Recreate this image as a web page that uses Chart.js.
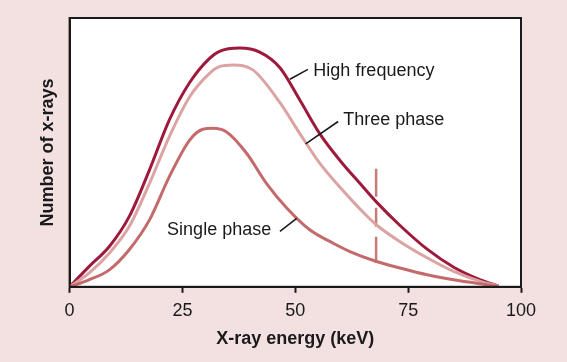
<!DOCTYPE html>
<html>
<head>
<meta charset="utf-8">
<script src="https://cdn.jsdelivr.net/npm/chart.js@4.4.1/dist/chart.umd.min.js"></script>
<style>
  html, body { margin: 0; padding: 0; background: #f3e0e1; }
  #wrap { width: 567px; height: 362px; }
</style>
</head>
<body>
<div id="wrap"><canvas id="myChart" width="567" height="362"></canvas></div>
<script>
// energies (keV) and relative counts
const highFreqKeV = [0, 4.3, 8.8, 13.2, 17.7, 22.1, 26.6, 31.0, 33.2, 37.7, 42.1, 46.6, 51.0, 55.4, 59.9, 64.3, 68.0, 73.2, 79.2, 85.1, 91.0, 95.0];
const highFreqVal = [0, 7.5, 15.0, 26.1, 43.5, 62.1, 76.0, 85.0, 87.6, 88.8, 87.3, 81.5, 69.5, 57.0, 47.0, 38.5, 31.5, 22.8, 14.0, 7.3, 2.6, 0.3];

const threePhaseKeV = [0, 4.3, 8.8, 13.2, 17.7, 22.1, 26.6, 31.0, 33.2, 36.2, 40.6, 46.6, 51.0, 55.4, 59.9, 64.3, 68.0, 73.2, 79.2, 85.1, 91.0, 95.0];
const threePhaseVal = [0, 5.1, 12.5, 22.4, 38.5, 55.9, 70.7, 79.4, 81.9, 82.5, 80.7, 68.5, 57.0, 46.0, 37.0, 29.0, 23.0, 16.8, 10.8, 5.7, 2.0, 0.3];

const singlePhaseKeV = [0, 4.3, 8.8, 13.2, 17.7, 22.1, 26.6, 29.5, 31.7, 34.7, 39.2, 43.6, 48.0, 53.2, 58.4, 62.1, 68.0, 73.2, 79.2, 85.1, 91.0, 95.0];
const singlePhaseVal = [0, 2.6, 6.3, 13.8, 24.9, 41.0, 54.6, 58.6, 59.0, 57.7, 49.7, 38.5, 29.5, 21.2, 16.2, 13.1, 9.4, 7.0, 4.5, 2.6, 1.1, 0.2];

// marker at 68 keV, broken just below where it crosses the upper curves
const markerKeV = [67.9, 67.9, 67.9, 67.9, 67.9, 67.9, 67.9, 67.9];
const markerVal = [43.9, 33.5, null, 29.4, 22.3, null, 18.6, 8.9];

const xTicks = [0, 25, 50, 75, 100];

// curve labels: [text, textX, textY, leaderFromX, leaderFromY, leaderToX, leaderToY]
const curveLabels = [
    ['High frequency', 54.0, 80.4, 48.8, 77.2, 52.8, 80.9],
    ['Three phase', 60.6, 62.1, 52.3, 53.2, 59.5, 61.5],
    ['Single phase', 21.6, 21.2, 46.6, 20.6, 50.3, 25.5]
];

const colors = {
    high: '#9e1a3c',
    three: '#dca3a3',
    single: '#c46a6b',
    marker: '#c97a7a'
};

const fontFamily = '"Liberation Sans", Arial, sans-serif';

function toPoints(xs, ys) {
    return xs.map((x, i) => ({ x: x, y: ys[i] }));
}

const frame = {
    id: 'frame',
    beforeDraw(chart) {
        const { ctx, chartArea: a } = chart;
        ctx.save();
        ctx.fillStyle = '#ffffff';
        ctx.fillRect(a.left, a.top, a.right - a.left, a.bottom - a.top);
        ctx.restore();
    },
    afterDraw(chart) {
        const { ctx, chartArea: a, scales } = chart;
        ctx.save();
        ctx.strokeStyle = '#1a1a1a';
        ctx.lineWidth = 2;
        ctx.strokeRect(a.left, a.top, a.right - a.left, a.bottom - a.top);

        ctx.font = '18px ' + fontFamily;
        ctx.fillStyle = '#1a1a1a';
        ctx.textBaseline = 'middle';
        ctx.textAlign = 'left';
        ctx.lineWidth = 1.6;
        curveLabels.forEach(l => {
            ctx.fillText(l[0], scales.x.getPixelForValue(l[1]), scales.y.getPixelForValue(l[2]));
            ctx.beginPath();
            ctx.moveTo(scales.x.getPixelForValue(l[3]), scales.y.getPixelForValue(l[4]));
            ctx.lineTo(scales.x.getPixelForValue(l[5]), scales.y.getPixelForValue(l[6]));
            ctx.stroke();
        });
        ctx.restore();
    }
};

const lineStyle = {
    fill: false,
    cubicInterpolationMode: 'monotone',
    pointRadius: 0,
    borderWidth: 3
};

const ctx = document.getElementById('myChart').getContext('2d');

const myChart = new Chart(ctx, {
    type: 'line',
    data: {
        datasets: [{
            label: 'Single phase',
            data: toPoints(singlePhaseKeV, singlePhaseVal),
            borderColor: colors.single,
            ...lineStyle
        }, {
            label: 'Three phase',
            data: toPoints(threePhaseKeV, threePhaseVal),
            borderColor: colors.three,
            ...lineStyle
        }, {
            label: 'High frequency',
            data: toPoints(highFreqKeV, highFreqVal),
            borderColor: colors.high,
            ...lineStyle
        }, {
            label: 'marker',
            data: toPoints(markerKeV, markerVal),
            borderColor: colors.marker,
            borderWidth: 2.5,
            pointRadius: 0,
            tension: 0,
            spanGaps: false
        }]
    },
    options: {
        responsive: false,
        animation: false,
        layout: {
            padding: { left: 37, right: 46, top: 18, bottom: 12 }
        },
        plugins: {
            legend: { display: false },
            tooltip: { enabled: false }
        },
        scales: {
            x: {
                type: 'linear',
                min: 0,
                max: 100,
                afterBuildTicks: axis => { axis.ticks = xTicks.map(v => ({ value: v })); },
                grid: {
                    display: true,
                    drawOnChartArea: false,
                    drawTicks: true,
                    tickLength: 6,
                    tickWidth: 2,
                    tickColor: '#1a1a1a'
                },
                border: { display: true, color: '#1a1a1a', width: 2 },
                ticks: {
                    color: '#1a1a1a',
                    padding: 7,
                    maxRotation: 0,
                    font: { family: fontFamily, size: 18 }
                },
                title: {
                    display: true,
                    text: 'X-ray energy (keV)',
                    color: '#1a1a1a',
                    padding: { top: 0, bottom: 0 },
                    font: { family: fontFamily, size: 18, weight: 'bold' }
                }
            },
            y: {
                min: 0,
                max: 100,
                grid: { display: false, drawTicks: false },
                border: { display: true, color: '#1a1a1a', width: 2 },
                ticks: { display: false },
                title: {
                    display: true,
                    text: 'Number of x-rays',
                    color: '#1a1a1a',
                    padding: { top: 0, bottom: 11 },
                    font: { family: fontFamily, size: 18, weight: 'bold' }
                }
            }
        }
    },
    plugins: [frame]
});
</script>
</body>
</html>
